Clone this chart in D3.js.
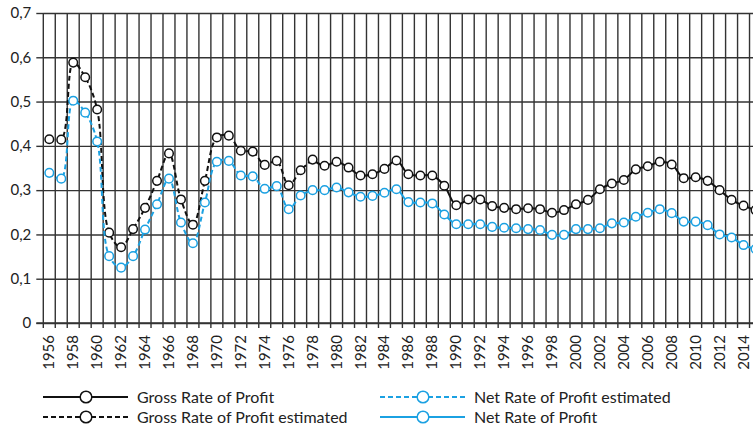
<!DOCTYPE html>
<html>
<head>
<meta charset="utf-8">
<script src="https://cdn.jsdelivr.net/npm/d3@7"></script>
<style>
  body { margin: 0; background: #fff; }
  svg { display: block; font-family: Lato, sans-serif; }
</style>
</head>
<body>
<svg width="753" height="429"></svg>
<script>
let years = d3.range(1956, 2016);
let yTicks = [0, 0.1, 0.2, 0.3, 0.4, 0.5, 0.6, 0.7];
let lastEstimated = 1978;

let gross = [
  0.415, 0.414, 0.588, 0.555, 0.482, 0.204, 0.171, 0.212, 0.260, 0.321,
  0.383, 0.279, 0.222, 0.321, 0.419, 0.423, 0.389, 0.387, 0.357, 0.366,
  0.311, 0.345, 0.369, 0.355, 0.364, 0.351, 0.333, 0.336, 0.348, 0.367,
  0.336, 0.333, 0.333, 0.310, 0.266, 0.279, 0.279, 0.264, 0.260, 0.257,
  0.259, 0.257, 0.249, 0.255, 0.268, 0.278, 0.302, 0.315, 0.323, 0.347,
  0.354, 0.364, 0.358, 0.327, 0.329, 0.321, 0.300, 0.278, 0.265, 0.255
];
let net = [
  0.339, 0.326, 0.502, 0.475, 0.410, 0.151, 0.125, 0.151, 0.211, 0.268,
  0.326, 0.227, 0.180, 0.272, 0.364, 0.366, 0.333, 0.331, 0.303, 0.309,
  0.257, 0.288, 0.300, 0.300, 0.306, 0.295, 0.285, 0.287, 0.294, 0.302,
  0.273, 0.272, 0.270, 0.245, 0.223, 0.223, 0.223, 0.217, 0.215, 0.214,
  0.212, 0.210, 0.199, 0.199, 0.212, 0.212, 0.214, 0.225, 0.227, 0.240,
  0.249, 0.257, 0.248, 0.229, 0.229, 0.221, 0.200, 0.193, 0.176, 0.167
];

let black = '#111', blue = '#1ba1e2', grid = '#333';
let svg = d3.select('svg');
let plotLeft = 43.3, plotTop = 13, plotBottom = 323, step = 11.97;

let x = d3.scaleBand().domain(years).range([plotLeft, plotLeft + step * years.length]);
let y = d3.scaleLinear().domain([0, 0.7]).range([plotBottom, plotTop]);
let fmt = function(d) { return d3.format('.1f')(d).replace('.', ',').replace(/^0,0$/, '0'); };

// horizontal gridlines + y labels
svg.append('g')
  .attr('transform', 'translate(' + plotLeft + ',0)')
  .call(d3.axisLeft(y).tickValues(yTicks).tickSize(7).tickPadding(5).tickFormat(fmt))
  .call(function(g) {
    g.select('.domain').remove();
    g.selectAll('.tick line').attr('stroke', grid).attr('stroke-width', 1.4);
    g.selectAll('.tick').append('line')
      .attr('x2', 753).attr('stroke', grid).attr('stroke-width', 1.4);
    g.selectAll('.tick text').attr('fill', '#222').style('font-size', '15px').style('font-family', 'Lato, sans-serif');
  });

// vertical gridlines at category boundaries
let bounds = years.map(function(d) { return x(d); }).concat([x(years[years.length - 1]) + x.bandwidth()]);
svg.append('g').selectAll('line').data(bounds).join('line')
  .attr('x1', function(d) { return d; }).attr('x2', function(d) { return d; })
  .attr('y1', plotTop).attr('y2', plotBottom + 5)
  .attr('stroke', grid).attr('stroke-width', 1.4);

// x axis line
svg.append('line')
  .attr('x1', plotLeft - 7).attr('x2', 753).attr('y1', plotBottom).attr('y2', plotBottom)
  .attr('stroke', grid).attr('stroke-width', 1.6);

// x labels (even years)
svg.append('g').selectAll('text').data(years.filter(function(d) { return d % 2 === 0; })).join('text')
  .attr('transform', function(d) { return 'translate(' + (x(d) + x.bandwidth() / 2 + 5) + ',' + (plotBottom + 12) + ') rotate(-90)'; })
  .attr('text-anchor', 'end')
  .attr('fill', '#222')
  .style('font-size', '15px')
  .text(function(d) { return d; });

// series
let series = [
  { values: gross, color: black },
  { values: net, color: blue }
];
let line = d3.line()
  .x(function(d) { return x(d.year) + x.bandwidth() / 2; })
  .y(function(d) { return y(d.v); })
  .curve(d3.curveCatmullRom.alpha(0.5));

series.forEach(function(s) {
  let pts = years.map(function(yr, i) { return { year: yr, v: s.values[i] }; });
  let est = pts.filter(function(d) { return d.year <= lastEstimated; });
  let act = pts.filter(function(d) { return d.year >= lastEstimated; });
  svg.append('path').datum(est).attr('d', line)
    .attr('fill', 'none').attr('stroke', s.color).attr('stroke-width', 2).attr('stroke-dasharray', '5,3');
  svg.append('path').datum(act).attr('d', line)
    .attr('fill', 'none').attr('stroke', s.color).attr('stroke-width', 2);
  svg.append('g').selectAll('circle').data(pts).join('circle')
    .attr('cx', function(d) { return x(d.year) + x.bandwidth() / 2; })
    .attr('cy', function(d) { return y(d.v); })
    .attr('r', 4.3)
    .attr('fill', '#fff').attr('stroke', s.color).attr('stroke-width', 1.5);
});

// legend
let legend = [
  { label: 'Gross Rate of Profit', color: black, dash: null, x: 43, y: 397 },
  { label: 'Gross Rate of Profit estimated', color: black, dash: '5,3', x: 43, y: 417 },
  { label: 'Net Rate of Profit estimated', color: blue, dash: '5,3', x: 380, y: 397 },
  { label: 'Net Rate of Profit', color: blue, dash: null, x: 380, y: 417 }
];
let lg = svg.append('g').selectAll('g').data(legend).join('g')
  .attr('transform', function(d) { return 'translate(' + d.x + ',' + d.y + ')'; });
lg.append('line').attr('x1', 0).attr('x2', 85)
  .attr('stroke', function(d) { return d.color; }).attr('stroke-width', 2.2)
  .attr('stroke-dasharray', function(d) { return d.dash; });
lg.append('circle').attr('cx', 43).attr('r', 5.8)
  .attr('fill', '#fff').attr('stroke', function(d) { return d.color; }).attr('stroke-width', 1.5);
lg.append('text').attr('x', 94).attr('y', 5.5)
  .attr('fill', '#222').style('font-size', '16px')
  .text(function(d) { return d.label; });
</script>
</body>
</html>
